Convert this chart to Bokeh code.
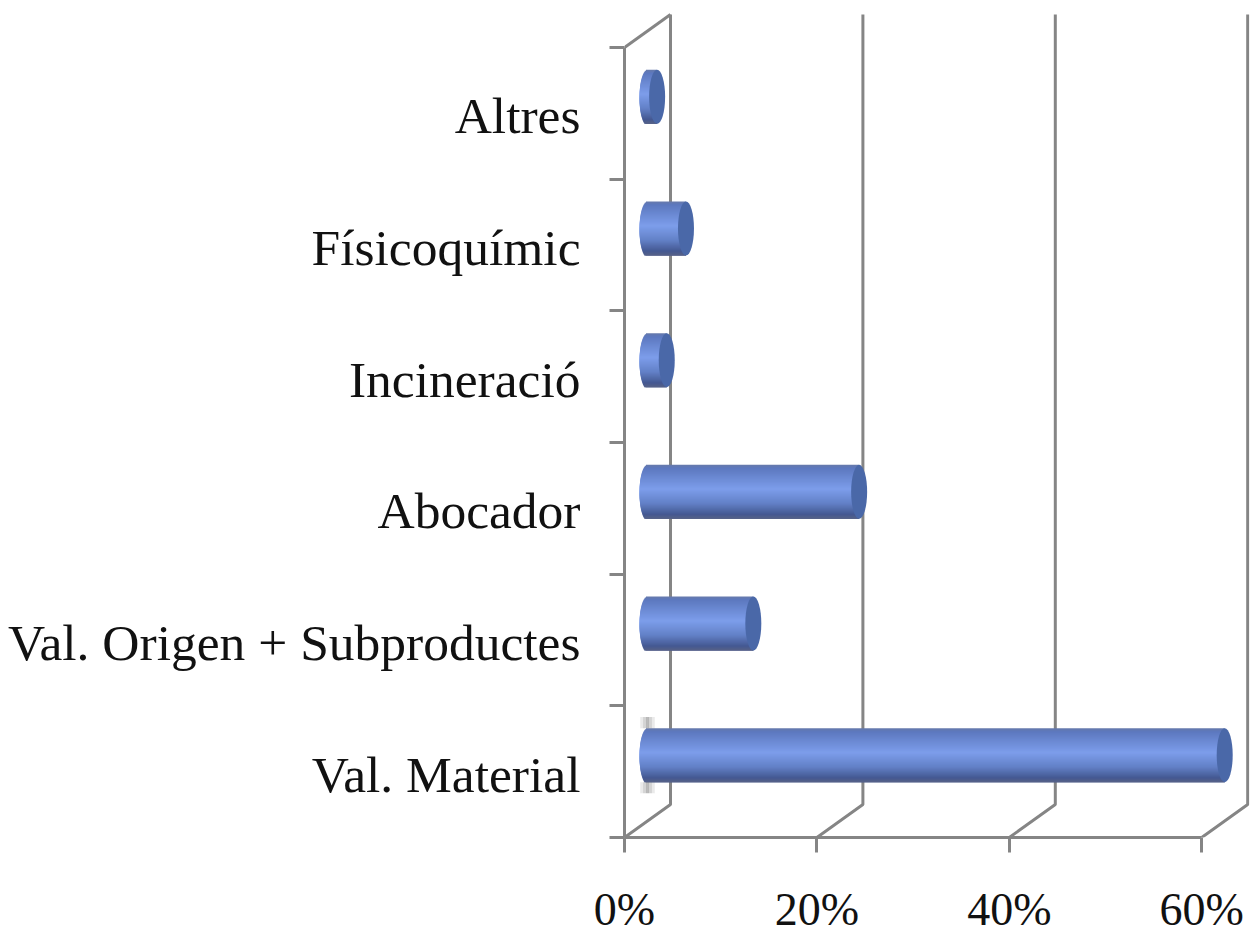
import math
from bokeh.plotting import figure
from bokeh.models import Range1d, FixedTicker
from bokeh.embed import file_html
from bokeh.resources import INLINE

categories = ["Val. Material", "Val. Origen + Subproductes", "Abocador", "Incineració", "Físicoquímic", "Altres"]
values = [60, 11, 22, 2, 4, 1]
x_ticks = [0, 20, 40, 60]
x_tick_labels = ["0%", "20%", "40%", "60%"]

# chart geometry (pixels per unit come from the frame and ranges)
PX_X = 9.62
PX_Y = 131.67
FRAME_W, FRAME_H = 625, 825
DX = 46 / PX_X
DY = 33 / PX_Y
GREY = "#858585"
FONT = "Liberation Serif"
STOPS = [(0.0, (104, 122, 170)), (0.06, (92, 120, 190)), (0.45, (125, 157, 235)),
         (0.72, (98, 128, 198)), (0.92, (68, 88, 145)), (1.0, (88, 98, 135))]


def shade(t):
    for (a, ca), (b, cb) in zip(STOPS, STOPS[1:]):
        if t <= b:
            f = (t - a) / (b - a)
            return "#%02x%02x%02x" % tuple(round(u + (v - u) * f) for u, v in zip(ca, cb))
    return "#%02x%02x%02x" % STOPS[-1][1]


n = len(categories)
p = figure(width=1239, height=920, output_backend="svg", toolbar_location=None,
           x_range=Range1d(0, FRAME_W / PX_X), y_range=Range1d(0, FRAME_H / PX_Y),
           frame_width=FRAME_W, frame_height=FRAME_H, margin=(0, 0, 0, 4),
           min_border_left=600, min_border_right=2, min_border_top=12, min_border_bottom=83)
p.outline_line_color = None
p.grid.visible = False

# walls
xs, ys = [[0, DX]], [[n, n + DY]]
for t in x_ticks:
    xs.append([t, t + DX, t + DX])
    ys.append([0, DY, n + DY])
xs[1] = [0, DX, DX]
p.multi_line(xs, ys, line_color=GREY, line_width=3)

# cylinders: stacked strips overlap so that no wall shows through them
R_X = 8 / PX_X
R_Y = 27 / PX_Y
STRIPS = 54
base = DX / 2
for i, v in enumerate(values):
    yc = i + 0.5 + DY / 2
    left, right, top, bottom, colors = [], [], [], [], []
    for s in range(STRIPS):
        t = (s + 0.5) / STRIPS
        u = 2 * t - 1
        left.append(base - R_X * math.sqrt(max(0, 1 - u * u)))
        right.append(v + base)
        top.append(yc + R_Y - 2 * R_Y * s / STRIPS)
        bottom.append(yc + R_Y - 2 * R_Y * min(s + 3, STRIPS) / STRIPS)
        colors.append(shade(t))
    p.quad(left=left, right=right, top=top, bottom=bottom, fill_color=colors, fill_alpha=1.0,
           line_color=None)
    p.ellipse(x=[v + base], y=[yc], width=[2 * R_X], height=[2 * R_Y],
              fill_color="#4a68a8", fill_alpha=1.0, line_color=None)

# the small smudge at the foot of the longest bar
for off, a in ((-0.6, 0.12), (-0.3, 0.25), (0, 0.4), (0.3, 0.25), (0.6, 0.12)):
    xv = base + off
    p.segment(x0=[xv, xv], x1=[xv, xv],
              y0=[0.5 + DY / 2 + R_Y, 0.5 + DY / 2 - R_Y],
              y1=[0.5 + DY / 2 + R_Y + 0.085, 0.5 + DY / 2 - R_Y - 0.085],
              line_color="#555555", line_width=3, line_alpha=a)

# x axis
ax = p.xaxis[0]
ax.ticker = FixedTicker(ticks=x_ticks)
ax.major_label_overrides = dict(zip(x_ticks, x_tick_labels))
ax.bounds = (0, 60)
ax.axis_line_color = GREY
ax.axis_line_width = 3
ax.major_tick_line_color = GREY
ax.major_tick_line_width = 3
ax.major_tick_in = 0
ax.major_tick_out = 15
ax.minor_tick_line_color = None
ax.major_label_text_font = FONT
ax.major_label_text_font_size = "46px"
ax.major_label_text_color = "#111111"
ax.major_label_standoff = 31

# y axis: category names at slot centres, tick marks at slot edges
ay = p.yaxis[0]
label_pos = [i + 0.48 for i in range(n)]
ay.ticker = FixedTicker(ticks=label_pos, minor_ticks=list(range(n + 1)))
ay.major_label_overrides = dict(zip(label_pos, categories))
ay.bounds = (0, n)
ay.axis_line_color = GREY
ay.axis_line_width = 3
ay.major_tick_line_color = None
ay.major_tick_in = 0
ay.major_tick_out = 0
ay.minor_tick_line_color = GREY
ay.minor_tick_line_width = 3
ay.minor_tick_in = 0
ay.minor_tick_out = 15
ay.major_label_text_font = FONT
ay.major_label_text_font_size = "51.5px"
ay.major_label_text_color = "#111111"
ay.major_label_standoff = 29

open("out.html", "w").write(file_html(p, INLINE))
